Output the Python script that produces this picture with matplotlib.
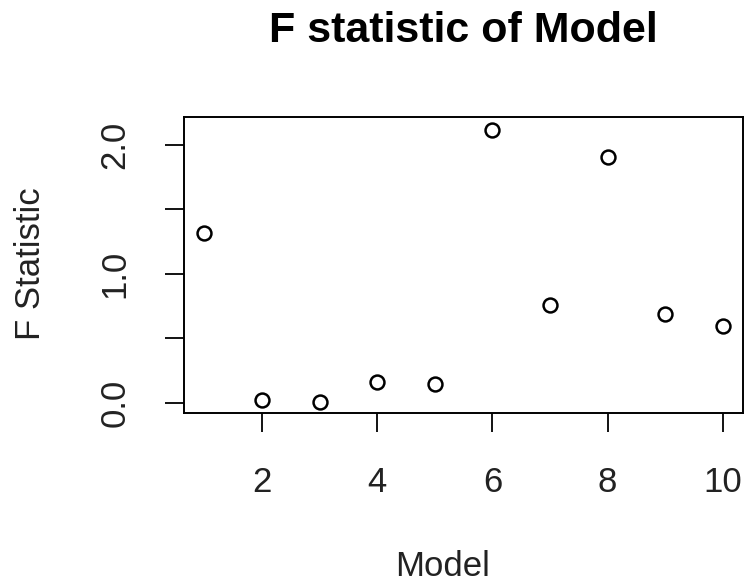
import matplotlib
matplotlib.use('Agg')
import matplotlib.pyplot as plt

# F statistic for each of the 10 models
models = [1, 2, 3, 4, 5, 6, 7, 8, 9, 10]
f_stat = [1.32, 0.02, 0.01, 0.165, 0.15, 2.12, 0.76, 1.91, 0.69, 0.60]

x_ticks = [2, 4, 6, 8, 10]
y_ticks = [0.0, 0.5, 1.0, 1.5, 2.0]
y_labels = ['0.0', '', '1.0', '', '2.0']

plt.rcParams['font.family'] = ['Liberation Sans', 'DejaVu Sans']

fig = plt.figure(figsize=(7.44, 5.86), dpi=100)
ax = fig.add_axes([184 / 744, 1 - 413 / 586, 559 / 744, 296 / 586])

ax.plot(models, f_stat, linestyle='none', marker='o', markersize=10,
        markerfacecolor='white', markeredgecolor='black', markeredgewidth=1.8)

ax.set_xlim(0.646, 10.35)
ax.set_ylim(-0.078, 2.217)

ax.set_xticks(x_ticks)
ax.set_yticks(y_ticks)
ax.set_yticklabels(y_labels, rotation=90, va='center')
ax.tick_params(direction='out', length=14, width=1.3, labelsize=25,
               colors='black', labelcolor='#222222')
ax.tick_params(axis='x', pad=24)
ax.tick_params(axis='y', pad=24)

for s in ax.spines.values():
    s.set_linewidth(1.4)

ax.set_xlabel('Model', fontsize=25, color='#222222', va='center')
ax.xaxis.set_label_coords((443 - 184) / 559, -(567 - 413) / 296, transform=ax.transAxes)
ax.set_ylabel('F Statistic', fontsize=25, color='#222222', va='center')
ax.yaxis.set_label_coords(-(184 - 30) / 559, 0.5 - (264 - 265) / 296, transform=ax.transAxes)

fig.text(463 / 744, 1 - 31 / 586, 'F statistic of Model', ha='center', va='center',
         fontsize=31, fontweight='bold')

fig.savefig('out.png', dpi=100)
